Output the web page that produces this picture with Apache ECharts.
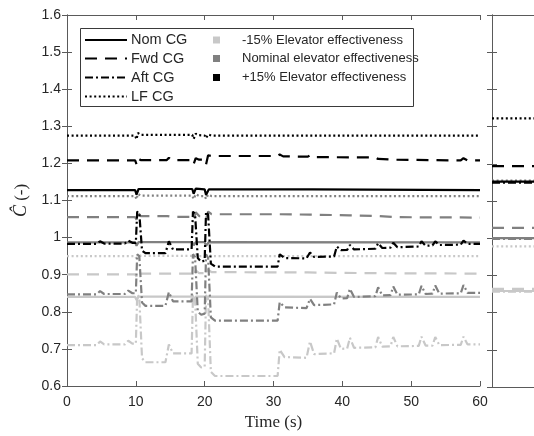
<!DOCTYPE html>
<html><head><meta charset="utf-8">
<script src="https://cdn.jsdelivr.net/npm/echarts@6/dist/echarts.min.js"></script>
<style>html,body{margin:0;padding:0;background:#fff}#c{width:534px;height:436px}</style>
</head><body><div id="c"></div><script>
// ---------------- DATA ----------------
const xTicksMin = 0, xTicksMax = 60, xStep = 10;
const yMin = 0.6, yMax = 1.6, yStep = 0.1;
const cgNames = ['Nom CG', 'Fwd CG', 'Aft CG', 'LF CG'];
const effNames = ['-15% Elevator effectiveness', 'Nominal elevator effectiveness', '+15% Elevator effectiveness'];
const xTitle = 'Time (s)';

// +15% elevator effectiveness (black)
const nomHi = [[0,1.128],[9.9,1.128],[10.1,1.116],[10.4,1.131],[14.6,1.131],[14.8,1.127],[15.1,1.131],[18.2,1.131],[18.4,1.118],[18.7,1.132],[20.0,1.13],[20.2,1.115],[20.6,1.13],[30.7,1.13],[30.9,1.126],[31.2,1.13],[35.1,1.13],[35.3,1.126],[35.6,1.13],[60,1.128]];
const fwdHi = [[0,1.208],[9.9,1.208],[10.1,1.198],[10.3,1.214],[10.7,1.209],[14.5,1.209],[14.8,1.215],[15.2,1.209],[18.2,1.209],[18.4,1.198],[18.7,1.214],[19.2,1.21],[20.0,1.21],[20.2,1.197],[20.5,1.222],[21.0,1.22],[30.6,1.22],[30.9,1.224],[31.4,1.219],[35.0,1.218],[35.3,1.222],[35.8,1.217],[44.8,1.216],[45.2,1.212],[47.4,1.21],[57.2,1.208],[57.6,1.214],[58.2,1.208],[60,1.208]];
const aftHi = [[0,0.983],[4.3,0.983],[4.8,0.99],[5.4,0.984],[8.4,0.984],[8.9,0.992],[9.5,0.986],[10.0,0.986],[10.2,1.07],[10.5,1.066],[10.9,0.965],[11.4,0.958],[14.3,0.958],[14.8,0.99],[15.4,0.968],[18.1,0.968],[18.3,1.07],[18.6,1.064],[19.0,0.945],[19.5,0.935],[20.0,0.938],[20.2,1.07],[20.5,1.062],[20.9,0.93],[21.5,0.922],[30.6,0.922],[30.9,0.955],[31.6,0.945],[34.8,0.944],[35.3,0.96],[35.9,0.948],[38.8,0.949],[39.2,0.976],[39.8,0.966],[40.7,0.967],[41.1,0.98],[41.7,0.968],[44.8,0.97],[45.2,0.985],[45.8,0.972],[47.0,0.973],[47.4,0.986],[48.0,0.974],[51.1,0.976],[51.5,0.99],[52.1,0.978],[53.1,0.979],[53.5,0.99],[54.1,0.98],[57.2,0.981],[57.6,0.992],[58.2,0.983],[60,0.983]];
const lfHi = [[0,1.275],[9.9,1.275],[10.1,1.265],[10.3,1.282],[10.7,1.277],[18.2,1.277],[18.4,1.266],[18.7,1.28],[19.2,1.276],[20.0,1.275],[20.2,1.268],[20.5,1.278],[21.0,1.275],[60,1.275]];

// Nominal elevator effectiveness (mid grey)
const nomMid = [[0,0.987],[9.9,0.987],[10.1,0.978],[10.4,0.988],[18.2,0.988],[18.4,0.979],[18.7,0.988],[20.0,0.988],[20.2,0.978],[20.6,0.988],[60,0.987]];
const fwdMid = [[0,1.055],[9.9,1.055],[10.1,1.048],[10.3,1.068],[10.7,1.058],[14.6,1.058],[14.8,1.062],[15.2,1.056],[18.2,1.056],[18.4,1.048],[18.7,1.068],[19.2,1.058],[20.0,1.058],[20.2,1.05],[20.5,1.07],[21.0,1.063],[30.6,1.063],[35.3,1.062],[41,1.06],[45.2,1.058],[48,1.055],[60,1.054]];
const aftMid = [[0,0.847],[4.3,0.847],[4.8,0.856],[5.4,0.848],[8.4,0.848],[8.9,0.857],[9.5,0.85],[10.0,0.85],[10.2,0.955],[10.5,0.95],[10.9,0.825],[11.4,0.816],[14.3,0.816],[14.8,0.853],[15.4,0.828],[18.1,0.828],[18.3,0.955],[18.6,0.948],[19.0,0.8],[19.5,0.792],[20.0,0.795],[20.2,0.955],[20.5,0.945],[20.9,0.785],[21.5,0.776],[30.6,0.776],[30.9,0.826],[31.6,0.812],[34.8,0.81],[35.3,0.835],[35.9,0.818],[38.8,0.82],[39.2,0.852],[39.8,0.836],[40.7,0.837],[41.1,0.862],[41.7,0.84],[44.8,0.842],[45.2,0.866],[45.8,0.844],[47.0,0.845],[47.4,0.868],[48.0,0.846],[51.1,0.847],[51.5,0.87],[52.1,0.848],[53.1,0.849],[53.5,0.871],[54.1,0.849],[57.2,0.85],[57.6,0.872],[58.2,0.851],[60,0.851]];
const lfMid = [[0,1.112],[9.9,1.112],[10.1,1.103],[10.3,1.118],[10.7,1.113],[18.2,1.113],[18.4,1.104],[18.7,1.117],[19.2,1.112],[20.0,1.112],[20.2,1.104],[20.5,1.116],[21.0,1.112],[60,1.112]];

// -15% elevator effectiveness (light grey)
const nomLo = [[0,0.84],[9.9,0.84],[10.1,0.832],[10.4,0.841],[18.2,0.841],[18.4,0.833],[18.7,0.841],[20.0,0.841],[20.2,0.832],[20.6,0.841],[60,0.84]];
const fwdLo = [[0,0.901],[9.9,0.901],[10.1,0.895],[10.3,0.912],[10.7,0.903],[18.2,0.903],[18.4,0.895],[18.7,0.912],[19.2,0.904],[20.0,0.904],[20.2,0.897],[20.5,0.914],[21.0,0.907],[35,0.906],[45,0.904],[60,0.903]];
const aftLo = [[0,0.71],[4.3,0.71],[4.8,0.72],[5.4,0.712],[8.4,0.712],[8.9,0.722],[9.5,0.714],[10.0,0.714],[10.2,0.845],[10.5,0.84],[10.9,0.675],[11.4,0.664],[14.3,0.664],[14.8,0.712],[15.4,0.688],[18.1,0.688],[18.3,0.845],[18.6,0.838],[19.0,0.66],[19.5,0.65],[20.0,0.652],[20.2,0.845],[20.5,0.835],[20.9,0.638],[21.5,0.627],[30.6,0.627],[30.9,0.698],[31.6,0.678],[34.8,0.676],[35.3,0.72],[35.9,0.686],[38.8,0.688],[39.2,0.728],[39.8,0.7],[40.7,0.701],[41.1,0.73],[41.7,0.703],[44.8,0.704],[45.2,0.732],[45.8,0.706],[47.0,0.707],[47.4,0.732],[48.0,0.707],[51.1,0.708],[51.5,0.733],[52.1,0.709],[53.1,0.709],[53.5,0.732],[54.1,0.71],[57.2,0.711],[57.6,0.733],[58.2,0.712],[60,0.712]];
const lfLo = [[0,0.95],[9.9,0.95],[10.1,0.943],[10.3,0.956],[10.7,0.951],[18.2,0.951],[18.4,0.944],[18.7,0.955],[19.2,0.95],[20.0,0.95],[20.2,0.944],[20.5,0.954],[21.0,0.95],[60,0.95]];

// right-hand (cropped) panel: steady levels, order Nom, Fwd, Aft, LF
const rightHi  = [1.152, 1.194, 1.149, 1.322];
const rightMid = [1.000, 1.028, 0.998, 1.155];
const rightLo  = [0.858, 0.864, 0.856, 0.978];
const rightX = [0, 10];

// ---------------- STYLE ----------------
const effColors = ['#c8c8c8', '#808080', '#000000'];
const dashes = ['solid', [12, 8], [8, 3, 2, 3], [2, 2.6]];
const axisCol = '#5a5a5a';
const txtCol = '#262626';
const sans = 'Liberation Sans, Arial, sans-serif';
const serif = 'Liberation Serif, Times New Roman, serif';

const groups = [
  [nomLo, fwdLo, aftLo, lfLo],
  [nomMid, fwdMid, aftMid, lfMid],
  [nomHi, fwdHi, aftHi, lfHi]
];
const rightGroups = [rightLo, rightMid, rightHi];

const series = [];
groups.forEach((g, ei) => {
  g.forEach((d, ci) => {
    series.push({
      type: 'line', xAxisIndex: 0, yAxisIndex: 0, data: d,
      showSymbol: false, symbol: 'none', silent: true,
      z: 2 + ei,
      lineStyle: { color: effColors[ei], width: 2.2, type: dashes[ci] }
    });
  });
});
rightGroups.forEach((g, ei) => {
  g.forEach((v, ci) => {
    series.push({
      type: 'line', xAxisIndex: 2, yAxisIndex: 2,
      data: rightX.map(x => [x, v]),
      showSymbol: false, symbol: 'none', silent: true,
      z: 2 + ei,
      lineStyle: { color: effColors[ei], width: 2.2, type: dashes[ci] }
    });
  });
});

// legend built from graphic elements
const legRowY = [40, 58.5, 77.5, 96.5];
const graphic = [{
  type: 'rect', z: 100, shape: { x: 80.5, y: 28.5, width: 333, height: 78 },
  style: { fill: '#fff', stroke: '#3a3a3a', lineWidth: 1 }
}];
cgNames.forEach((n, i) => {
  graphic.push({
    type: 'line', z: 101, shape: { x1: 85, y1: legRowY[i], x2: 127, y2: legRowY[i] },
    style: { stroke: '#000', lineWidth: 2.2, lineDash: dashes[i] === 'solid' ? null : dashes[i] }
  });
  graphic.push({
    type: 'text', z: 101, x: 131, y: legRowY[i],
    style: { text: n, fill: txtCol, font: '14.5px ' + sans, verticalAlign: 'middle' }
  });
});
effNames.forEach((n, i) => {
  graphic.push({
    type: 'rect', z: 101, shape: { x: 213, y: legRowY[i] - 3.5, width: 7, height: 7 },
    style: { fill: effColors[i] }
  });
  graphic.push({
    type: 'text', z: 101, x: 242, y: legRowY[i],
    style: { text: n, fill: txtCol, font: '13px ' + sans, verticalAlign: 'middle' }
  });
});

const tick = { show: true, inside: true, length: 5, lineStyle: { color: axisCol } };
const line = { show: true, lineStyle: { color: axisCol, width: 1 } };

const option = {
  animation: false,
  backgroundColor: '#fff',
  grid: [
    { left: 67, top: 15, width: 413, height: 372 },
    { left: 492, top: 15, width: 120, height: 372 }
  ],
  xAxis: [
    { gridIndex: 0, type: 'value', min: xTicksMin, max: xTicksMax, interval: xStep, position: 'bottom',
      axisLine: line, axisTick: tick, splitLine: { show: false },
      axisLabel: { color: txtCol, fontSize: 14, fontFamily: sans, margin: 9 },
      name: xTitle, nameLocation: 'middle', nameGap: 28,
      nameTextStyle: { color: txtCol, fontSize: 17, fontFamily: serif } },
    { gridIndex: 0, type: 'value', min: xTicksMin, max: xTicksMax, interval: xStep, position: 'top',
      axisLine: line, axisTick: tick, splitLine: { show: false }, axisLabel: { show: false } },
    { gridIndex: 1, type: 'value', min: 0, max: 10, position: 'bottom',
      axisLine: line, axisTick: { show: false }, splitLine: { show: false }, axisLabel: { show: false } },
    { gridIndex: 1, type: 'value', min: 0, max: 10, position: 'top',
      axisLine: line, axisTick: { show: false }, splitLine: { show: false }, axisLabel: { show: false } }
  ],
  yAxis: [
    { gridIndex: 0, type: 'value', min: yMin, max: yMax, interval: yStep, position: 'left',
      axisLine: line, axisTick: tick, splitLine: { show: false },
      axisLabel: { color: txtCol, fontSize: 14, fontFamily: sans, margin: 6,
        formatter: v => String(+v.toFixed(1)) },
      name: '{c|Ĉ} (-)', nameLocation: 'middle', nameGap: 34,
      nameTextStyle: { color: txtCol, fontSize: 17, fontFamily: serif,
        rich: { c: { fontStyle: 'italic', fontSize: 18, fontFamily: serif, color: txtCol } } } },
    { gridIndex: 0, type: 'value', min: yMin, max: yMax, interval: yStep, position: 'right',
      axisLine: line, axisTick: tick, splitLine: { show: false }, axisLabel: { show: false } },
    { gridIndex: 1, type: 'value', min: yMin, max: yMax, interval: yStep, position: 'left',
      axisLine: line, axisTick: tick, splitLine: { show: false }, axisLabel: { show: false } },
    { gridIndex: 1, type: 'value', min: yMin, max: yMax, interval: yStep, position: 'right',
      axisLine: line, axisTick: tick, splitLine: { show: false }, axisLabel: { show: false } }
  ],
  graphic: graphic,
  series: series
};
const chart = echarts.init(document.getElementById('c'), null, { renderer: 'canvas' });
chart.setOption(option);
</script></body></html>
